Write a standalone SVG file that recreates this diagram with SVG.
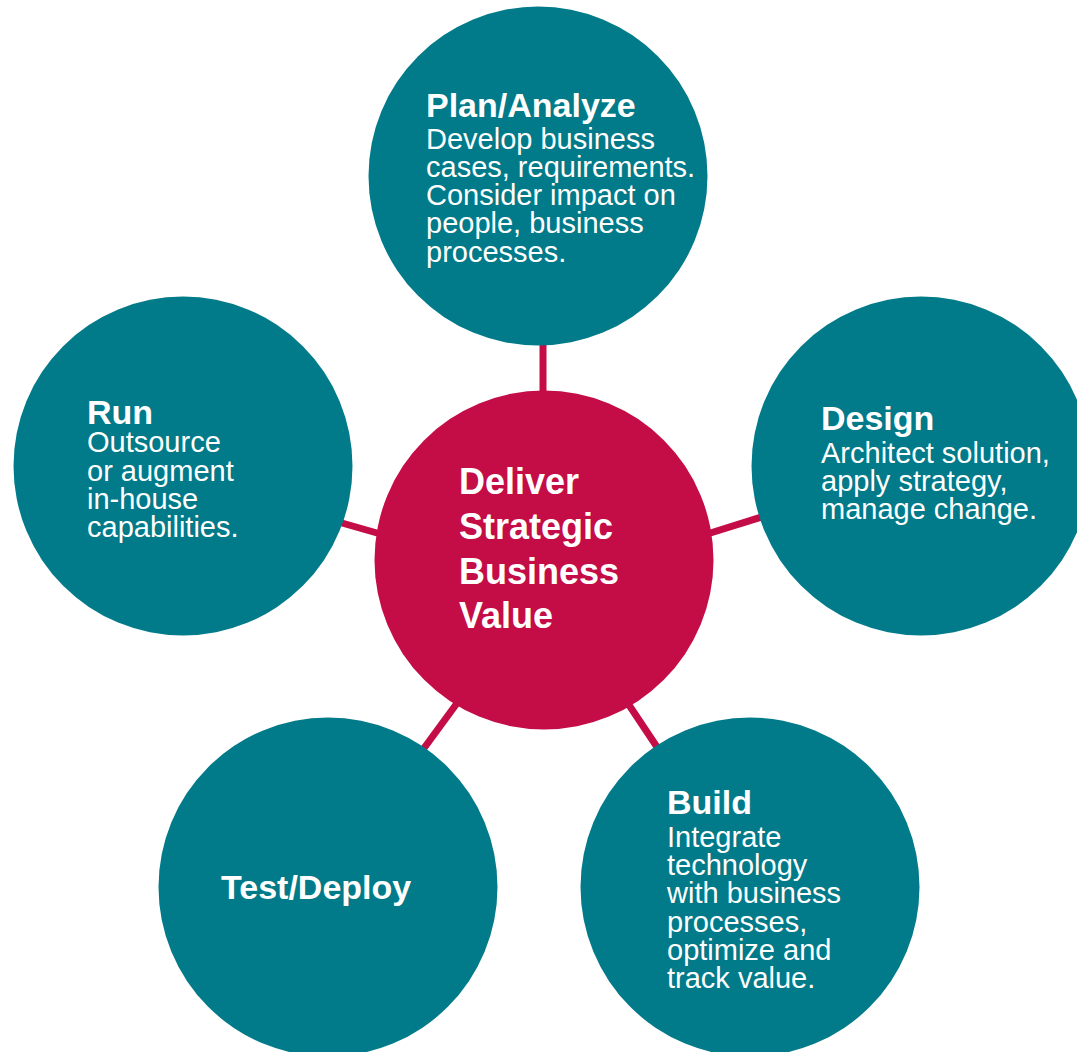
<svg xmlns="http://www.w3.org/2000/svg" width="1077" height="1052" viewBox="0 0 1077 1052">
<style>
.bg{fill:#ffffff}
.node{fill:#017A89}
.hub{fill:#C40C46}
.conn{stroke:#C40C46;stroke-width:7;fill:none}
text{font-family:"Liberation Sans",Arial,Helvetica,sans-serif;fill:#ffffff}
.h{font-size:34px;font-weight:bold}
.b{font-size:29px}
.c{font-size:36px;font-weight:bold}
</style>
<rect class="bg" x="0" y="0" width="1077" height="1052"/>
<g id="connectors">
<line class="conn" x1="543" y1="335" x2="543" y2="400"/>
<line class="conn" x1="335" y1="521" x2="384" y2="535"/>
<line class="conn" x1="704" y1="535" x2="768" y2="515"/>
<line class="conn" x1="463" y1="695" x2="419" y2="755"/>
<line class="conn" x1="625" y1="699" x2="661" y2="753"/>
</g>
<g id="plan">
<circle class="node" cx="538" cy="176" r="169.5"/>
<text class="h" x="426" y="117">Plan/Analyze</text>
<text class="b" x="426" y="148.5">Develop business</text>
<text class="b" x="426" y="176.8">cases, requirements.</text>
<text class="b" x="426" y="205">Consider impact on</text>
<text class="b" x="426" y="233.3">people, business</text>
<text class="b" x="426" y="261.6">processes.</text>
</g>
<g id="run">
<circle class="node" cx="183" cy="466" r="169.5"/>
<text class="h" x="87" y="423.5">Run</text>
<text class="b" x="87" y="452.3">Outsource</text>
<text class="b" x="87" y="480.6">or augment</text>
<text class="b" x="87" y="508.9">in-house</text>
<text class="b" x="87" y="537.2">capabilities.</text>
</g>
<g id="design">
<circle class="node" cx="921" cy="466" r="169.5"/>
<text class="h" x="821" y="429.5">Design</text>
<text class="b" x="821" y="462.7">Architect solution,</text>
<text class="b" x="821" y="491">apply strategy,</text>
<text class="b" x="821" y="519.3">manage change.</text>
</g>
<g id="hub">
<circle class="hub" cx="544" cy="560" r="169.5"/>
<text class="c" x="459" y="494.3">Deliver</text>
<text class="c" x="459" y="539">Strategic</text>
<text class="c" x="459" y="583.7">Business</text>
<text class="c" x="459" y="628.4">Value</text>
</g>
<g id="test">
<circle class="node" cx="328" cy="887" r="169.5"/>
<text class="h" x="221" y="898.5">Test/Deploy</text>
</g>
<g id="build">
<circle class="node" cx="750" cy="887" r="169.5"/>
<text class="h" x="667" y="814">Build</text>
<text class="b" x="667" y="846.7">Integrate</text>
<text class="b" x="667" y="875">technology</text>
<text class="b" x="667" y="903.3">with business</text>
<text class="b" x="667" y="931.6">processes,</text>
<text class="b" x="667" y="959.9">optimize and</text>
<text class="b" x="667" y="988.2">track value.</text>
</g>
</svg>
